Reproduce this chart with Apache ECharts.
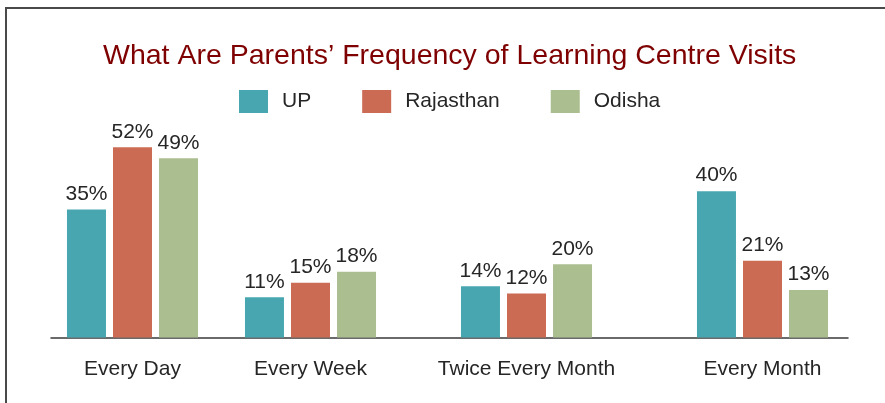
<!DOCTYPE html>
<html>
<head>
<meta charset="utf-8">
<script src="https://cdn.jsdelivr.net/npm/echarts@6/dist/echarts.min.js"></script>
<style>
html,body{margin:0;padding:0;background:#fff;}
#chart{width:885px;height:403px;}
</style>
</head>
<body>
<div id="chart"></div>
<script>
// ---- data ----
const categories = ['Every Day', 'Every Week', 'Twice Every Month', 'Every Month'];
const seriesNames = ['UP', 'Rajasthan', 'Odisha'];
const upValues = [35, 11, 14, 40];
const rajasthanValues = [52, 15, 12, 21];
const odishaValues = [49, 18, 20, 13];
const titleText = 'What Are Parents\u2019 Frequency of Learning Centre Visits';

// ---- styling / layout ----
const colors = ['#48a6b0', '#cc6b54', '#abbe90'];
const FONT = '"Liberation Sans", Arial, sans-serif';
const groupCenters = [132.5, 310.5, 526.5, 762.5]; // layout: pixel centres of each group
const gridWidth = 160;
const gridTop = 118, gridBottom = 65.5;
const yMax = 60;

const allValues = [upValues, rajasthanValues, odishaValues];

const grids = [], xAxes = [], yAxes = [], series = [];
categories.forEach((cat, i) => {
  grids.push({ left: groupCenters[i] - gridWidth / 2, width: gridWidth, top: gridTop, bottom: gridBottom });
  xAxes.push({
    gridIndex: i, type: 'category', data: [cat],
    axisLine: { show: false }, axisTick: { show: false },
    axisLabel: { color: '#262626', fontSize: 21, fontFamily: FONT, margin: 21 }
  });
  yAxes.push({ gridIndex: i, type: 'value', min: 0, max: yMax, show: false });
  seriesNames.forEach((name, s) => {
    series.push({
      type: 'bar', name: name, xAxisIndex: i, yAxisIndex: i,
      data: [allValues[s][i]],
      barWidth: 39, barGap: '18%',
      itemStyle: { color: colors[s] },
      label: {
        show: true, position: 'top', distance: 5, formatter: '{c}%',
        color: '#262626', fontSize: 21, fontFamily: FONT
      }
    });
  });
});
// full-width baseline axis
grids.push({ left: 51, right: 37, top: gridTop, bottom: gridBottom });
xAxes.push({
  gridIndex: 4, type: 'value', min: 0, max: 1,
  axisLine: { show: true, onZero: false, lineStyle: { color: '#3a3a3a', width: 1.5 } },
  axisTick: { show: false }, axisLabel: { show: false }, splitLine: { show: false }
});
yAxes.push({ gridIndex: 4, type: 'value', min: 0, max: 1, show: false });

const chart = echarts.init(document.getElementById('chart'), null, { renderer: 'canvas' });
chart.setOption({
  animation: false,
  backgroundColor: '#ffffff',
  title: {
    text: titleText, left: 98, top: 37,
    textStyle: { color: '#7f0000', fontSize: 28.5, fontWeight: 'normal', fontFamily: FONT }
  },
  legend: {
    data: seriesNames, left: 234, top: 85,
    icon: 'rect', itemWidth: 29, itemHeight: 23, itemGap: 51,
    textStyle: { color: '#262626', fontSize: 21, fontFamily: FONT, padding: [0, 0, 0, 9] }
  },
  graphic: [
    { type: 'line', shape: { x1: 5, y1: 8, x2: 885, y2: 8 }, style: { stroke: '#4a4a4a', lineWidth: 2 } },
    { type: 'line', shape: { x1: 6, y1: 8, x2: 6, y2: 403 }, style: { stroke: '#4a4a4a', lineWidth: 2 } }
  ],
  grid: grids,
  xAxis: xAxes,
  yAxis: yAxes,
  series: series
});
</script>
</body>
</html>
